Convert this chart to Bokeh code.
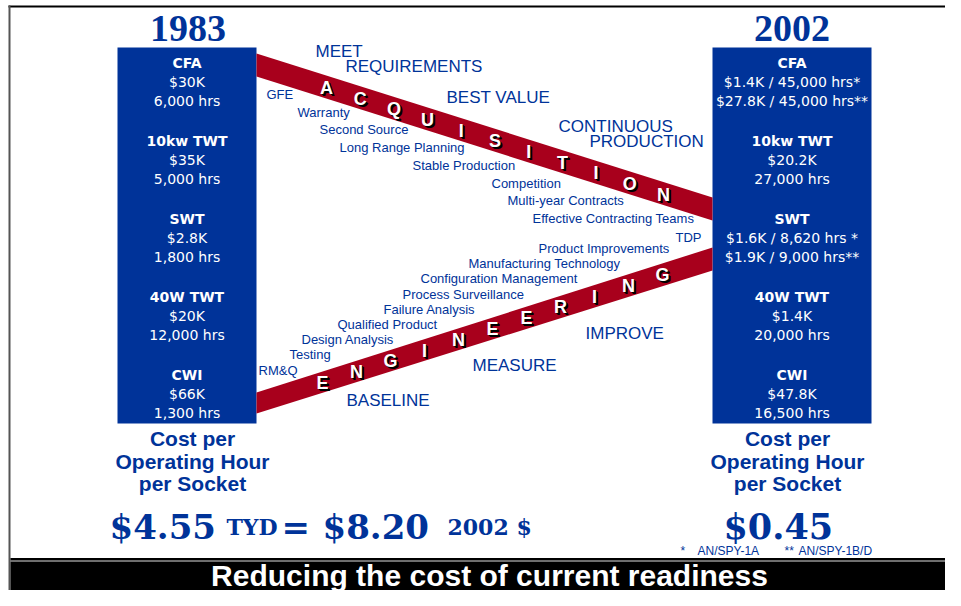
from bokeh.plotting import figure
from bokeh.models import Range1d
from bokeh.core.properties import value
from bokeh.embed import file_html
from bokeh.resources import INLINE

# ---------------- data ----------------
years = ["1983", "2002"]
components = ["CFA", "10kw TWT", "SWT", "40W TWT", "CWI"]
cost_1983 = ["$30K", "$35K", "$2.8K", "$20K", "$66K"]
hours_1983 = ["6,000 hrs", "5,000 hrs", "1,800 hrs", "12,000 hrs", "1,300 hrs"]
line1_2002 = ["$1.4K / 45,000 hrs*", "$20.2K", "$1.6K / 8,620 hrs *", "$1.4K", "$47.8K"]
line2_2002 = ["$27.8K / 45,000 hrs**", "27,000 hrs", "$1.9K / 9,000 hrs**", "20,000 hrs", "16,500 hrs"]
cost_label = ["Cost per", "Operating Hour", "per Socket"]
cost_1983_tyd = ["$4.55", "TYD", "=", "$8.20", "2002 $"]
cost_2002 = ["$0.45"]
acq_word = list("ACQUISITION")
eng_word = list("ENGINEERING")
acq_factors = ["GFE", "Warranty", "Second Source", "Long Range Planning",
               "Stable Production", "Competition", "Multi-year Contracts",
               "Effective Contracting Teams"]
eng_factors = ["RM&Q", "Testing", "Design Analysis", "Qualified Product",
               "Failure Analysis", "Process Surveillance", "Configuration Management",
               "Manufacturing Technology", "Product Improvements", "TDP"]
acq_goals = ["MEET", "REQUIREMENTS", "BEST VALUE", "CONTINUOUS", "PRODUCTION"]
eng_goals = ["BASELINE", "MEASURE", "IMPROVE"]
footnotes = ["*", "AN/SPY-1A", "**", "AN/SPY-1B/D"]
title = "Reducing the cost of current readiness"

# ---------------- layout ----------------
BLUE = "#003399"
RED = "#a8001c"
SANS = "Liberation Sans"
BOXF = "DejaVu Sans"
W, H = 945, 590

p = figure(width=W, height=H, x_range=Range1d(0, W), y_range=Range1d(H, 0),
           output_backend="svg", toolbar_location=None, min_border=0,
           x_axis_location=None, y_axis_location=None,
           background_fill_color="white", border_fill_color="white")
p.outline_line_color = None
p.xgrid.visible = False
p.ygrid.visible = False


def txt(xs, ys, texts, size, color=BLUE, font=SANS, style="normal",
        align="center", baseline="middle"):
    p.text(x=xs, y=ys, text=texts, text_font=value(font),
           text_font_size=f"{size}px", text_color=color,
           text_font_style=style, text_align=align, text_baseline=baseline)


# frame lines
p.line(x=[8, W], y=[6, 6], line_color="black", line_width=2)
p.line(x=[9, 9], y=[5, H], line_color="#555555", line_width=2)

# bottom banner
p.quad(left=[10], right=[W], top=[557.5], bottom=[H], fill_color="black", line_color=None)
p.line(x=[10, W], y=[560.5, 560.5], line_color="#dddddd", line_width=1)
txt([489], [574.5], [title], 30, color="white", style="bold")

# blue boxes
box_left = [117, 712]
box_right = [256, 871]
p.quad(left=box_left, right=box_right, top=[47, 47], bottom=[423, 423],
       fill_color=BLUE, line_color=None)
cx = [(l + r) / 2 for l, r in zip(box_left, box_right)]

# years
txt([cx[0] + 1, cx[1]], [28, 28], years, 38, font="Liberation Serif", style="bold")

# box texts
for i in range(5):
    y0 = 62 + 78 * i
    txt([cx[0], cx[1]], [y0, y0], [components[i], components[i]], 14, color="white",
        font=BOXF, style="bold")
    txt([cx[0], cx[0]], [y0 + 19, y0 + 38], [cost_1983[i], hours_1983[i]], 14,
        color="white", font=BOXF)
    txt([cx[1], cx[1]], [y0 + 19, y0 + 38], [line1_2002[i], line2_2002[i]], 14,
        color="white", font=BOXF)

# cost per operating hour labels
for k, lab in enumerate(cost_label):
    yy = 438 + 22.5 * k
    txt([192, 787], [yy, yy], [lab, lab], 21, style="bold")

# big dollar figures
SERIF = "DejaVu Serif"
txt([109], [526], [cost_1983_tyd[0]], 34, font=SERIF, style="bold", align="left", baseline="alphabetic")
txt([226], [526], [cost_1983_tyd[1]], 22, font=SERIF, style="bold", align="left", baseline="alphabetic")
txt([281], [526], [cost_1983_tyd[2]], 34, font=SERIF, style="bold", align="left", baseline="alphabetic")
txt([322], [526], [cost_1983_tyd[3]], 34, font=SERIF, style="bold", align="left", baseline="alphabetic")
txt([447], [526], [cost_1983_tyd[4]], 22, font=SERIF, style="bold", align="left", baseline="alphabetic")
txt([723], [526], cost_2002, 35, font=SERIF, style="bold", align="left", baseline="alphabetic")

# footnotes
txt([680, 697, 784, 798], [550, 550, 550, 550], footnotes, 12, align="left")

# red bands
p.patch(x=[256, 712, 712, 256], y=[53, 197, 220, 76], fill_color=RED, line_color=None)
p.patch(x=[256, 712, 712, 256], y=[392, 247, 270, 413], fill_color=RED, line_color=None)

# band letters
n = len(acq_word)
ax = [326 + (663 - 326) * i / (n - 1) for i in range(n)]
ay = [65.5 + (x - 256) * 144 / 456 for x in ax]
n2 = len(eng_word)
ex = [322 + (662 - 322) * i / (n2 - 1) for i in range(n2)]
ey = [403.5 - (x - 256) * 145 / 456 for x in ex]
for dx in (1, 2):
    txt([x + dx for x in ax], [y + dx for y in ay], acq_word, 18, color="black", style="bold")
    txt([x + dx for x in ex], [y + dx for y in ey], eng_word, 18, color="black", style="bold")
txt(ax, ay, acq_word, 18, color="white", style="bold")
txt(ex, ey, eng_word, 18, color="white", style="bold")

# acquisition factors
acq_fx = [266, 297, 319, 339, 412, 491, 507, 532]
acq_fy = [94 + 17.7 * i for i in range(len(acq_factors))]
txt(acq_fx, acq_fy, acq_factors, 13, align="left")

# engineering factors
eng_fx = [258, 289, 301, 337, 383, 402, 420, 468, 538, 675]
eng_fy = [370, 354, 339, 324, 309, 294, 278, 263, 248, 237]
txt(eng_fx, eng_fy, eng_factors, 13, align="left")

# goals
txt([315, 345, 446, 558, 589], [51, 66, 97, 126, 141], acq_goals, 17, align="left")
txt([346, 472, 585], [400, 365, 333], eng_goals, 17, align="left")

open("out.html", "w").write(file_html(p, INLINE))
